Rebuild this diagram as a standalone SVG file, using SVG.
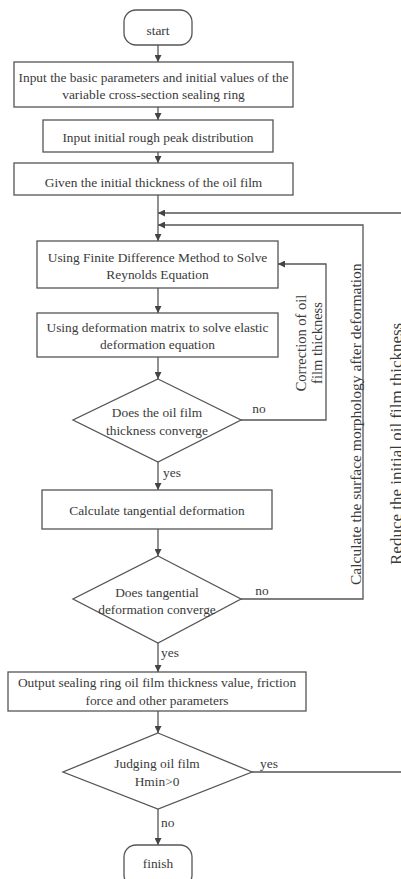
<svg xmlns="http://www.w3.org/2000/svg" width="401" height="879" viewBox="0 0 401 879">
<style>
.n{fill:#fff;stroke:#555;stroke-width:1.3}
.t{font-family:"Liberation Serif","Times New Roman",serif;font-size:13.4px;fill:#3a3a3a;text-anchor:middle}
.l{font-family:"Liberation Serif","Times New Roman",serif;font-size:13.4px;fill:#3a3a3a}
.v{font-family:"Liberation Serif","Times New Roman",serif;font-size:15.5px;fill:#3a3a3a}
.c{fill:none;stroke:#555;stroke-width:1.3}
</style>
<defs>
<marker id="ah" viewBox="0 0 10 10" refX="10" refY="5" markerWidth="7" markerHeight="7" markerUnits="userSpaceOnUse" orient="auto">
<path d="M0,0 L10,5 L0,10 z" fill="#444"/>
</marker>
</defs>
<rect width="401" height="879" fill="#fff"/>
<g id="connectors">
<path class="c" d="M158,45 V62" marker-end="url(#ah)"/>
<path class="c" d="M158,107 V120" marker-end="url(#ah)"/>
<path class="c" d="M158,152 V163" marker-end="url(#ah)"/>
<path class="c" d="M158,195 V241" marker-end="url(#ah)"/>
<path class="c" d="M158,288 V313" marker-end="url(#ah)"/>
<path class="c" d="M158,357 V379" marker-end="url(#ah)"/>
<path class="c" d="M158,462 V490" marker-end="url(#ah)"/>
<path class="c" d="M158,529 V556" marker-end="url(#ah)"/>
<path class="c" d="M158,643 V672" marker-end="url(#ah)"/>
<path class="c" d="M158,711 V733" marker-end="url(#ah)"/>
<path class="c" d="M158,809 V845" marker-end="url(#ah)"/>
<path class="c" d="M241,420 H326 V264 H278" marker-end="url(#ah)"/>
<path class="c" d="M241,599 H363 V225 H158" marker-end="url(#ah)"/>
<path class="c" d="M252,772 H410 V213 H158" marker-end="url(#ah)"/>
<text class="l" x="259" y="413" text-anchor="middle">no</text>
<text class="l" x="262" y="595" text-anchor="middle">no</text>
<text class="l" x="269" y="768" text-anchor="middle">yes</text>
<text class="l" x="163" y="477">yes</text>
<text class="l" x="161" y="657">yes</text>
<text class="l" x="161" y="827">no</text>
<text class="l" style="font-size:14.5px" transform="translate(306,343) rotate(-90)" text-anchor="middle">Correction of oil</text>
<text class="l" style="font-size:14.5px" transform="translate(322,343) rotate(-90)" text-anchor="middle">film thickness</text>
<text class="v" transform="translate(361,585) rotate(-90)">Calculate the surface morphology after deformation</text>
<text class="v" style="font-size:17px" transform="translate(402,565) rotate(-90)">Reduce the initial oil film thickness</text>
</g>
<g id="start">
<rect class="n" x="124" y="10" width="68" height="35" rx="12"/>
<text class="t" x="158" y="34.5">start</text>
</g>
<g id="input-params">
<rect class="n" x="14" y="62" width="279" height="45"/>
<text class="t" x="153.5" y="81.5">Input the basic parameters and initial values of the</text>
<text class="t" x="153.5" y="98.5">variable cross-section sealing ring</text>
</g>
<g id="input-peak">
<rect class="n" x="43" y="120" width="230" height="32"/>
<text class="t" x="158" y="141.5">Input initial rough peak distribution</text>
</g>
<g id="initial-thickness">
<rect class="n" x="14" y="163" width="279" height="32"/>
<text class="t" x="153.5" y="186.5">Given the initial thickness of the oil film</text>
</g>
<g id="reynolds">
<rect class="n" x="37" y="241" width="241" height="47"/>
<text class="t" x="157.5" y="262">Using Finite Difference Method to Solve</text>
<text class="t" x="157.5" y="279">Reynolds Equation</text>
</g>
<g id="elastic">
<rect class="n" x="37" y="313" width="241" height="44"/>
<text class="t" x="157.5" y="331.5">Using deformation matrix to solve elastic</text>
<text class="t" x="157.5" y="349">deformation equation</text>
</g>
<g id="converge1">
<polygon class="n" points="158,379 241,420 158,462 73,420"/>
<text class="t" x="157" y="417">Does the oil film</text>
<text class="t" x="157" y="434.5">thickness converge</text>
</g>
<g id="tangential">
<rect class="n" x="42" y="490" width="230" height="39"/>
<text class="t" x="157" y="514.5">Calculate tangential deformation</text>
</g>
<g id="converge2">
<polygon class="n" points="158,556 241,599 158,643 73,599"/>
<text class="t" x="157" y="596.5">Does tangential</text>
<text class="t" x="157" y="613.5">deformation converge</text>
</g>
<g id="output">
<rect class="n" x="8" y="672" width="298" height="39"/>
<text class="t" x="157" y="687">Output sealing ring oil film thickness value, friction</text>
<text class="t" x="157" y="705">force and other parameters</text>
</g>
<g id="judge">
<polygon class="n" points="158,733 252,772 158,809 63,772"/>
<text class="t" x="157" y="767.5">Judging oil film</text>
<text class="t" x="157" y="786">Hmin&gt;0</text>
</g>
<g id="finish">
<rect class="n" x="124" y="845" width="68" height="42" rx="12"/>
<text class="t" x="158" y="868">finish</text>
</g>
</svg>
